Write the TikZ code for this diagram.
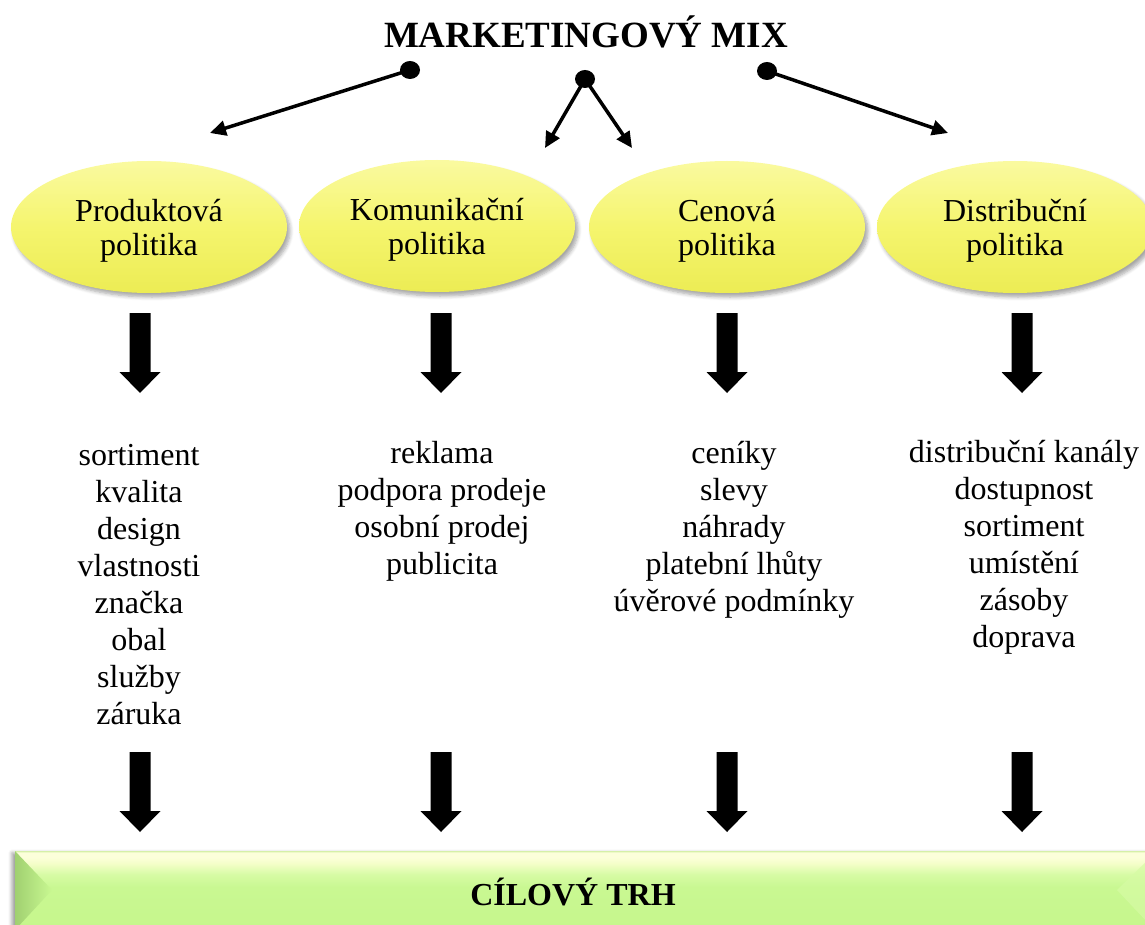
\documentclass[tikz,border=0pt]{standalone}
\usepackage{fontspec}
\setmainfont{Liberation Serif}
\usetikzlibrary{shapes.geometric,arrows.meta,shadows.blur}
\definecolor{ellTop}{RGB}{250,250,160}
\definecolor{ellMid}{RGB}{245,245,110}
\definecolor{ellBot}{RGB}{236,236,84}
\definecolor{barBorder}{RGB}{214,240,168}
\definecolor{barCream}{RGB}{252,255,218}
\definecolor{barLight}{RGB}{244,254,200}
\definecolor{barMid}{RGB}{214,251,164}
\definecolor{barGreen}{RGB}{201,248,146}
\definecolor{barBottom}{RGB}{198,246,140}
\definecolor{bevelDark}{RGB}{160,208,112}
\pgfdeclareverticalshading{barshade}{100bp}{color(0bp)=(barBottom); color(25bp)=(barBottom); color(52bp)=(barGreen); color(60bp)=(barMid); color(67bp)=(barLight); color(71bp)=(barCream); color(74bp)=(barCream); color(75bp)=(barBorder); color(100bp)=(barBorder)}
\tikzset{
  policy/.style={ellipse, minimum width=138pt, minimum height=66pt, inner sep=0pt,
    top color=ellTop, bottom color=ellBot, middle color=ellMid, draw=none,
    blur shadow={shadow xshift=1.5pt, shadow yshift=-2pt, shadow opacity=35, shadow blur steps=6},
    align=center, text depth=0pt, font=\fontsize{16}{17}\selectfont},
  item/.style={anchor=base, inner sep=0pt, font=\fontsize{16}{18.5}\selectfont},
  conn/.style={line width=1.75pt, -{Triangle[length=8pt,width=7.5pt]}},
  dotmark/.style={fill=black},
  blockarrow/.pic={\fill[black] (-10.5,0) -- (10.5,0) -- (10.5,59) -- (20.5,59) -- (0,80) -- (-20.5,59) -- (-10.5,59) -- cycle;}
}
\begin{document}
\begin{tikzpicture}[x=0.5pt,y=-0.5pt]
\useasboundingbox (0,0) rectangle (1145,925);
% title
\node[anchor=base, inner sep=0pt, font=\fontsize{18.5}{20}\selectfont\bfseries] (title) at (586,48) {MARKETINGOVÝ MIX};
% ellipses
\node[policy] (p1) at (149,227) {Produktová\\politika};
\node[policy] (p2) at (437,226) {Komunikační\\politika};
\node[policy] (p3) at (727,227) {Cenová\\politika};
\node[policy] (p4) at (1015,227) {Distribuční\\politika};
% connectors
\coordinate (d1) at (410,70);
\coordinate (d2) at (585,79);
\coordinate (d3) at (767,71);
\coordinate (t1) at (210,133);
\coordinate (t2) at (545,148);
\coordinate (t3) at (632,148);
\coordinate (t4) at (948,133);
\draw[conn] (d1) -- (t1);
\draw[conn] (d2) -- (t2);
\draw[conn] (d2) -- (t3);
\draw[conn] (d3) -- (t4);
\fill[dotmark] (d1) ellipse [x radius=10, y radius=9];
\fill[dotmark] (d2) ellipse [x radius=10, y radius=9];
\fill[dotmark] (d3) ellipse [x radius=10, y radius=9];
% block arrows
\foreach \x in {140,441,727,1022}{
  \pic at (\x,313) {blockarrow};
  \pic at (\x,752) {blockarrow};
}
% lists
\foreach \t [count=\i from 0] in {sortiment,kvalita,design,vlastnosti,značka,obal,služby,záruka}
  \node[item] (a\i) at (139,465+37*\i) {\t};
\foreach \t [count=\i from 0] in {reklama,podpora prodeje,osobní prodej,publicita}
  \node[item] (b\i) at (442,463+37*\i) {\t};
\foreach \t [count=\i from 0] in {ceníky,slevy,náhrady,platební lhůty,úvěrové podmínky}
  \node[item] (c\i) at (734,463+37*\i) {\t};
\foreach \t [count=\i from 0] in {distribuční kanály,dostupnost,sortiment,umístění,zásoby,doprava}
  \node[item] (e\i) at (1024,462+37*\i) {\t};
% bottom bar
\path[blur shadow={shadow xshift=-1.5pt, shadow yshift=-1pt, shadow opacity=40, shadow blur steps=4}, fill=barGreen] (15,851) rectangle (1150,930);
\shade[shading=barshade] (15,851) rectangle (1150,930);
\shade[left color=bevelDark, right color=barGreen, shading angle=90] (15,851) -- (52,890) -- (15,930) -- cycle;
\fill[barMid, opacity=0.7] (1150,858) -- (1117,890) -- (1150,925) -- cycle;
\node[anchor=base, inner sep=0pt, font=\fontsize{16}{18}\selectfont\bfseries] (target) at (573,905) {CÍLOVÝ TRH};
\end{tikzpicture}
\end{document}
